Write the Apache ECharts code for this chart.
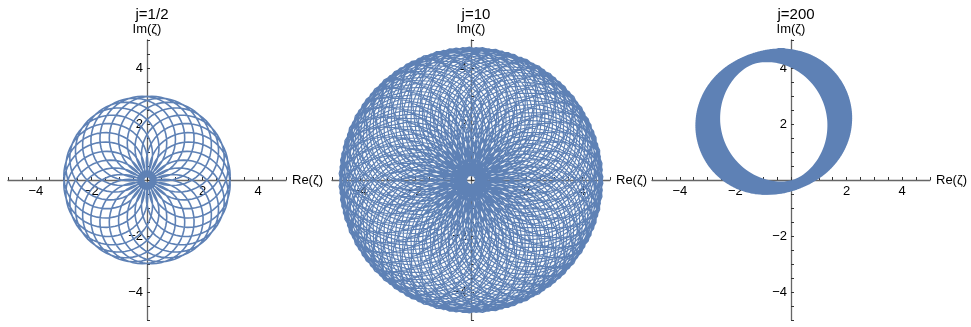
<!DOCTYPE html>
<html>
<head>
<meta charset="utf-8">
<script src="https://cdn.jsdelivr.net/npm/echarts@6/dist/echarts.min.js"></script>
<style>
  html, body { margin: 0; padding: 0; background: #fff; }
  #chart { width: 971px; height: 327px; }
</style>
</head>
<body>
<div id="chart"></div>
<script>
// values
var panelTitles = ['j=1/2', 'j=10', 'j=200'];
// path of the loop centres: an ellipse (centre, half axes, tilt in degrees)
var pathCentreX = [0, 0, -0.62];
var pathCentreY = [0, 0, 2.08];
var pathHalfX = [1.56, 2.45, 0.44];
var pathHalfY = [1.56, 2.45, 0.16];
var pathTilt = [0, 0, 20];
var loopRadius = [1.44, 2.3, 2.38];
var loopCount = [28, 150, 200];
var samplesPerLoop = [60, 12.37, 36];
var lineWidth = [1.6, 1.2, 1.4];
var tickLabels = [-4, -2, 2, 4];

var originX = [147, 471, 791];
var lineColor = '#5E81B5';
var font = '"Liberation Sans", Arial, sans-serif';

function curve(k) {
    var n = Math.round(loopCount[k] * samplesPerLoop[k]);
    var tilt = pathTilt[k] * Math.PI / 180;
    var pts = [];
    for (var i = 0; i <= n; i++) {
        var t = i / n;
        var th = 2 * Math.PI * t;
        var ex = pathHalfX[k] * Math.cos(th), ey = pathHalfY[k] * Math.sin(th);
        var cx = pathCentreX[k] + ex * Math.cos(tilt) - ey * Math.sin(tilt);
        var cy = pathCentreY[k] + ex * Math.sin(tilt) + ey * Math.cos(tilt);
        var ph = th + Math.PI + 2 * Math.PI * loopCount[k] * t;
        pts.push([cx + loopRadius[k] * Math.cos(ph), cy + loopRadius[k] * Math.sin(ph)]);
    }
    return pts;
}

function label(v) {
    if (tickLabels.indexOf(v) < 0) return '';
    return v < 0 ? '\u2212' + (-v) : String(v);
}

var grids = [], xAxes = [], yAxes = [], series = [], titles = [];
for (var k = 0; k < 3; k++) {
    grids.push({ left: originX[k] - 139, top: 40, width: 278, height: 280, outerBoundsMode: 'none' });
    titles.push({
        text: panelTitles[k], left: originX[k], top: 2, textAlign: 'center',
        textStyle: { fontFamily: font, fontSize: 15, fontWeight: 'normal', color: '#000' }
    });
    var common = {
        type: 'value', gridIndex: k, min: -5, max: 5, interval: 0.5,
        axisLine: { onZero: false, lineStyle: { color: '#666', width: 1.3 } },
        axisTick: { inside: true, length: 3, lineStyle: { color: '#333' } },
        splitLine: { show: false },
        axisLabel: { formatter: label, fontFamily: font, fontSize: 13, color: '#000', showMinLabel: true, showMaxLabel: true },
        nameTextStyle: { fontFamily: font, fontSize: 13, color: '#000' }
    };
    // axes sit on the zero lines: moved in from the grid edge by half its size
    xAxes.push(Object.assign({}, common, {
        position: 'bottom', offset: -140,
        name: 'Re(\u03b6)', nameLocation: 'end', nameGap: 6,
        axisLabel: Object.assign({}, common.axisLabel, { margin: 5 })
    }));
    yAxes.push(Object.assign({}, common, {
        position: 'left', offset: -139,
        name: 'Im(\u03b6)', nameLocation: 'end', nameGap: 4,
        axisLabel: Object.assign({}, common.axisLabel, { margin: 4 })
    }));
    series.push({
        type: 'line', xAxisIndex: k, yAxisIndex: k, data: curve(k),
        showSymbol: false, silent: true, z: 1,
        lineStyle: { color: lineColor, width: lineWidth[k] }
    });
}

var chart = echarts.init(document.getElementById('chart'));
chart.setOption({
    animation: false,
    backgroundColor: '#fff',
    title: titles,
    grid: grids,
    xAxis: xAxes,
    yAxis: yAxes,
    series: series
});
</script>
</body>
</html>
